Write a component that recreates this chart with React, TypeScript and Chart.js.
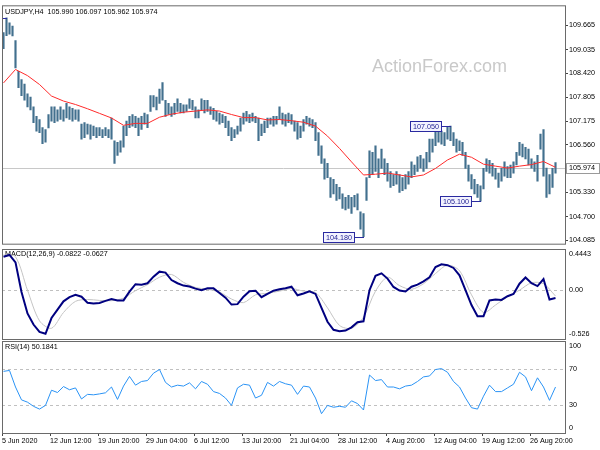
import React, { useEffect, useRef } from "react";
import { Chart, registerables } from "chart.js";

Chart.register(...registerables);

// ---------------- data ----------------
const symbolTitle = "USDJPY,H4  105.990 106.097 105.962 105.974";
const macdTitle = "MACD(12,26,9) -0.0822 -0.0627";
const rsiTitle = "RSI(14) 50.1841";
const watermark = "ActionForex.com";

// one entry per bar (bar index = array index)
const barHigh = [
  109.48, 109.86, 109.73, 109.65, 109.27, 108.47, 108.26, 108.14, 107.89, 107.80,
  107.55, 107.30, 107.22, 107.01, 106.96, 107.35, 107.55, 107.55, 107.47, 107.55,
  107.47, 107.64, 107.55, 107.51, 107.47, 107.47, 107.10, 107.14, 107.10, 107.08,
  107.05, 107.01, 107.01, 106.96, 107.01, 106.96, 107.26, 106.67, 106.63, 106.67,
  107.05, 107.18, 107.30, 107.35, 107.30, 107.26, 107.30, 107.39, 107.35, 107.84,
  107.84, 107.80, 108.01, 108.18, 107.72, 107.64, 107.55, 107.64, 107.76, 107.64,
  107.60, 107.60, 107.76, 107.72, 107.55, 107.47, 107.76, 107.72, 107.72, 107.55,
  107.51, 107.43, 107.39, 107.35, 107.30, 107.18, 107.01, 106.96, 107.05, 107.26,
  107.39, 107.43, 107.35, 107.39, 107.30, 107.26, 107.10, 107.18, 107.26, 107.26,
  107.30, 107.30, 107.55, 107.39, 107.35, 107.39, 107.35, 107.18, 107.14, 107.05,
  107.22, 107.30, 107.26, 107.22, 107.14, 106.88, 106.54, 106.20, 106.08, 105.71,
  105.67, 105.54, 105.46, 105.29, 105.20, 105.25, 105.20, 105.25, 105.29, 104.82,
  104.78, 105.71, 106.41, 106.37, 106.54, 106.20, 106.45, 106.20, 106.08, 105.87,
  105.79, 105.87, 105.79, 105.71, 105.79, 105.87, 106.12, 106.04, 106.25, 106.29,
  106.20, 106.37, 106.71, 106.71, 106.96, 107.01, 106.92, 106.88, 107.03, 107.05,
  106.88, 106.71, 106.67, 106.63, 106.37, 106.04, 105.79, 105.67, 105.54, 105.50,
  105.95, 106.20, 106.16, 106.08, 105.95, 105.83, 105.95, 106.12, 106.00, 106.04,
  106.12, 106.37, 106.63, 106.58, 106.50, 106.45, 106.20, 106.12, 106.29, 106.84,
  106.96, 105.96, 105.79, 105.95, 106.10,
];
const barLow = [
  109.06, 109.40, 109.44, 109.39, 108.56, 108.05, 107.84, 107.72, 107.55, 107.47,
  107.14, 106.92, 106.88, 106.59, 106.63, 107.00, 107.18, 107.14, 107.18, 107.22,
  107.18, 107.26, 107.22, 107.18, 107.22, 107.18, 106.71, 106.75, 106.84, 106.71,
  106.80, 106.75, 106.80, 106.75, 106.80, 106.75, 106.71, 106.08, 106.29, 106.37,
  106.50, 106.80, 107.01, 107.05, 107.01, 106.80, 106.96, 107.10, 107.01, 107.43,
  107.55, 107.47, 107.64, 107.72, 107.30, 107.35, 107.30, 107.35, 107.43, 107.39,
  107.39, 107.43, 107.51, 107.47, 107.26, 107.26, 107.47, 107.39, 107.43, 107.35,
  107.22, 107.18, 107.10, 107.14, 107.01, 106.80, 106.67, 106.75, 106.84, 106.92,
  107.10, 107.18, 107.14, 107.18, 107.14, 106.67, 106.80, 106.88, 107.01, 107.10,
  107.05, 107.10, 107.22, 107.10, 107.05, 107.14, 107.10, 106.92, 106.71, 106.75,
  106.92, 107.10, 107.05, 107.01, 106.67, 106.29, 106.08, 105.67, 105.71, 105.20,
  105.29, 105.12, 105.16, 104.91, 104.87, 104.91, 104.78, 104.95, 104.87, 104.37,
  104.18, 105.12, 105.71, 105.79, 105.87, 105.71, 105.95, 105.79, 105.62, 105.46,
  105.50, 105.54, 105.33, 105.37, 105.42, 105.54, 105.71, 105.79, 105.87, 105.96,
  105.87, 105.95, 106.12, 106.37, 106.54, 106.63, 106.58, 106.54, 106.71, 106.67,
  106.54, 106.37, 106.41, 106.29, 105.95, 105.62, 105.42, 105.29, 105.20, 105.10,
  105.42, 105.87, 105.83, 105.75, 105.67, 105.46, 105.62, 105.75, 105.71, 105.71,
  105.83, 106.04, 106.29, 106.25, 106.20, 106.04, 105.96, 105.87, 105.62, 106.45,
  105.75, 105.20, 105.29, 105.46, 105.83,
];

// moving average, one value every maStep bars
const maStep = 4;
const maValues = [
  108.17, 108.52, 108.36, 108.13, 107.83, 107.70, 107.61, 107.50, 107.38, 107.26,
  107.07, 107.12, 107.12, 107.28, 107.36, 107.41, 107.44, 107.47, 107.44, 107.35,
  107.27, 107.27, 107.21, 107.22, 107.19, 107.15, 107.05, 106.79, 106.47, 106.12,
  105.78, 105.80, 105.83, 105.78, 105.73, 105.78, 105.95, 106.17, 106.32, 106.24,
  106.06, 106.01, 105.96, 106.01, 106.05, 106.13, 105.98,
];

// MACD main line, one value every macdStep bars
const macdStep = 2;
const macdMain = [
  0.36, 0.38, 0.30, -0.02, -0.25, -0.37, -0.45, -0.47, -0.30, -0.21,
  -0.12, -0.075, -0.05, -0.07, -0.135, -0.142, -0.138, -0.115, -0.095, -0.11,
  -0.11, -0.015, 0.065, 0.06, 0.075, 0.146, 0.20, 0.19, 0.11, 0.075,
  0.05, 0.04, 0.017, 0.0, 0.02, 0.02, -0.03, -0.08, -0.155, -0.15,
  -0.07, -0.012, -0.005, -0.075, -0.04, -0.005, 0.01, 0.022, 0.038, -0.055,
  -0.035, -0.012, -0.04, -0.19, -0.34, -0.427, -0.443, -0.435, -0.40, -0.345,
  -0.335, 0.0, 0.155, 0.182, 0.125, 0.035, -0.003, -0.014, 0.038, 0.06,
  0.095, 0.14, 0.25, 0.28, 0.27, 0.24, 0.16, 0.0, -0.16, -0.28,
  -0.28, -0.11, -0.10, -0.105, -0.065, -0.041, 0.07, 0.137, 0.075, 0.045,
  0.12, -0.10, -0.085,
];
// MACD signal line, one value every signalStep bars
const signalStep = 4;
const macdSignal = [
  0.38, 0.36, 0.0, -0.33, -0.41, -0.24, -0.12, -0.10, -0.11, -0.113,
  -0.085, -0.005, 0.06, 0.14, 0.17, 0.085, 0.03, 0.01, -0.02, -0.095,
  -0.134, -0.05, -0.033, -0.01, 0.018, -0.01, -0.025, -0.19, -0.38, -0.41,
  -0.29, -0.01, 0.14, 0.05, 0.01, 0.07, 0.18, 0.27, 0.21, -0.05,
  -0.24, -0.16, -0.07, 0.0, 0.08, 0.07, -0.063,
];

// RSI(14), one value every rsiStep bars
const rsiStep = 2;
const rsiValues = [
  67, 68, 50, 36, 33.5, 29, 26, 30, 46.5, 44,
  50.5, 47, 49, 37, 42, 41.5, 42.5, 43.7, 50, 36.5,
  51, 61.5, 52, 56, 57, 65, 69, 55, 50, 52,
  51, 54.5, 48, 56, 53, 45, 43, 38, 30, 49,
  53, 52, 38, 41, 55, 51, 56, 53.5, 52, 42,
  51, 50, 38, 21, 30, 28, 29, 28, 35, 32,
  25, 63, 57, 58, 50, 50, 48, 51, 52, 56,
  61, 62, 69, 70, 66, 56, 50, 38, 27.5, 26,
  40, 52, 45, 45, 49, 53, 66, 61, 46, 60,
  50, 35.5, 50,
];

const priceTicks = [109.665, 109.035, 108.42, 107.805, 107.175, 106.56, 105.33, 104.7, 104.085];
const lastPrice = 105.974;
const macdTicks = [0.4443, 0, -0.526];
const macdTickLabels = ["0.4443", "0.00", "-0.526"];
const rsiTicks = [100, 70, 30, 0];
const rsiLevels = [70, 30];
const dateLabels = [
  "5 Jun 2020", "12 Jun 12:00", "19 Jun 20:00", "29 Jun 04:00", "6 Jul 12:00", "13 Jul 20:00",
  "21 Jul 04:00", "28 Jul 12:00", "4 Aug 20:00", "12 Aug 04:00", "19 Aug 12:00", "26 Aug 20:00",
];
const dateStep = 16; // bars between date labels

// price marks: label, price, bar index
const markLabels = ["", "107.050", "105.100", "104.180"];
const markPrices = [109.86, 107.05, 105.1, 104.18];
const markBars = [1, 149, 159, 120];

// ---------------- styling / scales ----------------
const FONT = '"Liberation Sans", Arial, sans-serif';
const SMALL = 7.2;
const PRICE_MIN = 103.996;
const PRICE_MAX = 110.186;
const MACD_MIN = -0.526;
const MACD_MAX = 0.4443;
const X_MIN = 0;
const X_MAX = X_MIN + 563 / 3;
const FRAME = "#6a6a6a";
const NAVY = "#2a2aa0";
const BAR_COLOR = "#42708e";

Chart.defaults.font.family = FONT;

function frame(ctx: any, a: any) {
  ctx.save();
  ctx.strokeStyle = FRAME;
  ctx.lineWidth = 1;
  ctx.strokeRect(a.left + 0.5, a.top + 0.5, a.right - a.left, a.bottom - a.top);
  ctx.restore();
}

function sideLabels(ctx: any, a: any, scale: any, values: number[], labels: string[]) {
  ctx.save();
  ctx.font = `${SMALL}px ${FONT}`;
  ctx.fillStyle = "#000";
  ctx.textBaseline = "middle";
  ctx.textAlign = "left";
  values.forEach((v, i) => {
    let y = scale.getPixelForValue(v);
    y = Math.min(Math.max(y, a.top + 5), a.bottom - 5);
    ctx.fillText(labels[i], a.right + 4, y);
  });
  ctx.restore();
}

function dashedLevel(ctx: any, a: any, y: number) {
  ctx.save();
  ctx.strokeStyle = "#c0c0c0";
  ctx.lineWidth = 1;
  ctx.setLineDash([3, 3]);
  ctx.beginPath();
  const yy = Math.round(y) + 0.5;
  ctx.moveTo(a.left, yy);
  ctx.lineTo(a.right, yy);
  ctx.stroke();
  ctx.restore();
}

const mainDecor = {
  id: "mainDecor",
  beforeDatasetsDraw(chart: any) {
    const { ctx, chartArea: a, scales } = chart;
    ctx.save();
    ctx.font = `18px ${FONT}`;
    ctx.fillStyle = "#c9c9c9";
    ctx.textBaseline = "alphabetic";
    ctx.textAlign = "left";
    ctx.fillText(watermark, 372, 72);
    const y = Math.round(scales.y.getPixelForValue(lastPrice)) + 0.5;
    ctx.strokeStyle = "#c8c8c8";
    ctx.lineWidth = 1;
    ctx.beginPath();
    ctx.moveTo(a.left, y);
    ctx.lineTo(a.right, y);
    ctx.stroke();
    ctx.restore();
  },
  afterDatasetsDraw(chart: any) {
    const { ctx, chartArea: a, scales } = chart;
    const xS = scales.x;
    const yS = scales.y;
    ctx.save();
    ctx.font = `${SMALL}px ${FONT}`;
    ctx.lineWidth = 1;
    markLabels.forEach((label, i) => {
      const y = Math.round(yS.getPixelForValue(markPrices[i])) + 0.5;
      const xb = Math.round(xS.getPixelForValue(markBars[i] + 0.5));
      ctx.strokeStyle = NAVY;
      if (label) {
        const w = Math.round(ctx.measureText(label).width + 5);
        const right = xb - 10;
        const left = right - w;
        ctx.fillStyle = "#f3f3ff";
        ctx.fillRect(left, y - 5, w, 10);
        ctx.strokeRect(left + 0.5, y - 5, w, 10);
        ctx.beginPath();
        ctx.moveTo(right, y);
        ctx.lineTo(xb, y);
        ctx.stroke();
        ctx.fillStyle = "#1c1c90";
        ctx.textAlign = "center";
        ctx.textBaseline = "middle";
        ctx.fillText(label, left + w / 2 + 0.5, y + 0.5);
      } else {
        ctx.beginPath();
        ctx.moveTo(a.left, y);
        ctx.lineTo(xb, y);
        ctx.stroke();
      }
    });
    ctx.restore();
  },
  afterDraw(chart: any) {
    const { ctx, chartArea: a, scales } = chart;
    frame(ctx, a);
    ctx.save();
    ctx.font = `${SMALL}px ${FONT}`;
    ctx.fillStyle = "#000";
    ctx.textBaseline = "middle";
    ctx.textAlign = "left";
    ctx.fillText(symbolTitle, a.left + 3, a.top + 6.5);
    // last price label on the axis
    const y = Math.round(scales.y.getPixelForValue(lastPrice));
    ctx.fillStyle = "#ffffff";
    ctx.fillRect(a.right + 1, y - 5, 34, 11);
    ctx.strokeStyle = "#9a9a9a";
    ctx.strokeRect(a.right + 1.5, y - 4.5, 33, 10);
    ctx.fillStyle = "#000";
    ctx.fillText(lastPrice.toFixed(3), a.right + 4, y + 0.5);
    ctx.restore();
  },
};

const macdDecor = {
  id: "macdDecor",
  beforeDatasetsDraw(chart: any) {
    const { ctx, chartArea: a, scales } = chart;
    dashedLevel(ctx, a, scales.y.getPixelForValue(0));
    ctx.save();
    ctx.font = `${SMALL}px ${FONT}`;
    ctx.fillStyle = "#000";
    ctx.textBaseline = "middle";
    ctx.fillText(macdTitle, a.left + 3, a.top + 5.5);
    ctx.restore();
  },
  afterDraw(chart: any) {
    const { ctx, chartArea: a, scales } = chart;
    frame(ctx, a);
    sideLabels(ctx, a, scales.y, macdTicks, macdTickLabels);
  },
};

const rsiDecor = {
  id: "rsiDecor",
  beforeDatasetsDraw(chart: any) {
    const { ctx, chartArea: a, scales } = chart;
    rsiLevels.forEach((lv) => dashedLevel(ctx, a, scales.y.getPixelForValue(lv)));
    ctx.save();
    ctx.font = `${SMALL}px ${FONT}`;
    ctx.fillStyle = "#000";
    ctx.textBaseline = "middle";
    ctx.fillText(rsiTitle, a.left + 3, a.top + 6);
    ctx.restore();
  },
  afterDraw(chart: any) {
    const { ctx, chartArea: a, scales } = chart;
    frame(ctx, a);
    sideLabels(ctx, a, scales.y, rsiTicks, rsiTicks.map((v) => String(v)));
  },
};

const hiddenX = { type: "linear", min: X_MIN, max: X_MAX, display: false, offset: false };
const baseOptions = {
  animation: false,
  responsive: false,
  devicePixelRatio: 1,
  events: [],
  plugins: { legend: { display: false }, tooltip: { enabled: false } },
};

function createMain(canvas: HTMLCanvasElement) {
  const bars = barHigh.map((h, i) => ({ x: i + 0.5, y: [barLow[i], h] }));
  const ma = maValues.map((v, i) => ({ x: i * maStep + 0.5, y: v }));
  return new Chart(canvas, {
    type: "line",
    data: {
      datasets: [
        { type: "line", label: "MA", data: ma, borderColor: "#ff2b2b", borderWidth: 1, pointRadius: 0, tension: 0 },
        { type: "bar", label: "USDJPY", data: bars, backgroundColor: BAR_COLOR, borderWidth: 0, barThickness: 1.5, grouped: false },
      ],
    } as any,
    options: {
      ...baseOptions,
      layout: { padding: { left: 2, top: 2, right: 0, bottom: 1 }, autoPadding: false },
      scales: {
        x: hiddenX,
        y: {
          type: "linear",
          position: "right",
          min: PRICE_MIN,
          max: PRICE_MAX,
          afterFit: (s: any) => { s.width = 35; },
          afterBuildTicks: (s: any) => { s.ticks = priceTicks.map((v) => ({ value: v })); },
          ticks: {
            callback: (v: any) => Number(v).toFixed(3),
            font: { family: FONT, size: SMALL },
            color: "#000",
            padding: 1,
          },
          grid: { drawOnChartArea: false, tickLength: 3, color: "#444" },
          border: { display: false },
        },
      },
    } as any,
    plugins: [mainDecor],
  });
}

function createMacd(canvas: HTMLCanvasElement) {
  const main = macdMain.map((v, i) => ({ x: i * macdStep + 0.5, y: v }));
  const sig = macdSignal.map((v, i) => ({ x: i * signalStep + 0.5, y: v }));
  return new Chart(canvas, {
    type: "line",
    data: {
      datasets: [
        { label: "MACD", data: main, borderColor: "#000080", borderWidth: 2, pointRadius: 0, tension: 0 },
        { label: "Signal", data: sig, borderColor: "#c4c4c4", borderWidth: 1, pointRadius: 0, tension: 0.3 },
      ],
    } as any,
    options: {
      ...baseOptions,
      layout: { padding: { left: 2, top: 0, right: 35, bottom: 1 }, autoPadding: false },
      scales: {
        x: hiddenX,
        y: { type: "linear", min: MACD_MIN, max: MACD_MAX, display: false },
      },
    } as any,
    plugins: [macdDecor],
  });
}

function createRsi(canvas: HTMLCanvasElement) {
  const rsi = rsiValues.map((v, i) => ({ x: i * rsiStep + 0.5, y: v }));
  return new Chart(canvas, {
    type: "line",
    data: {
      datasets: [
        { label: "RSI", data: rsi, borderColor: "#2a93f5", borderWidth: 1, pointRadius: 0, tension: 0 },
      ],
    } as any,
    options: {
      ...baseOptions,
      layout: { padding: { left: 2, top: 1, right: 35, bottom: 0 }, autoPadding: false },
      scales: {
        x: {
          type: "linear",
          min: X_MIN,
          max: X_MAX,
          offset: false,
          position: "bottom",
          afterFit: (s: any) => { s.height = 17; },
          afterBuildTicks: (s: any) => { s.ticks = dateLabels.map((_, i) => ({ value: i * dateStep })); },
          ticks: {
            callback: (_v: any, i: number) => dateLabels[i],
            autoSkip: false,
            maxRotation: 0,
            minRotation: 0,
            align: "start",
            padding: 1,
            font: { family: FONT, size: SMALL },
            color: "#000",
          },
          grid: { drawOnChartArea: false, tickLength: 3, color: "#444", offset: false },
          border: { display: false },
        },
        y: { type: "linear", min: 0, max: 100, display: false },
      },
    } as any,
    plugins: [rsiDecor],
  });
}

export default function App() {
  const mainRef = useRef<HTMLCanvasElement>(null);
  const macdRef = useRef<HTMLCanvasElement>(null);
  const rsiRef = useRef<HTMLCanvasElement>(null);

  useEffect(() => {
    const charts = [
      createMain(mainRef.current as HTMLCanvasElement),
      createMacd(macdRef.current as HTMLCanvasElement),
      createRsi(rsiRef.current as HTMLCanvasElement),
    ];
    return () => charts.forEach((c) => c.destroy());
  }, []);

  return (
    <div style={{ position: "absolute", left: 0, top: 0, width: 600, height: 450, background: "#fff" }}>
      <canvas ref={mainRef} width={600} height={249} style={{ position: "absolute", left: 0, top: 0 }} />
      <canvas ref={macdRef} width={600} height={91} style={{ position: "absolute", left: 0, top: 249 }} />
      <canvas ref={rsiRef} width={600} height={110} style={{ position: "absolute", left: 0, top: 340 }} />
    </div>
  );
}
